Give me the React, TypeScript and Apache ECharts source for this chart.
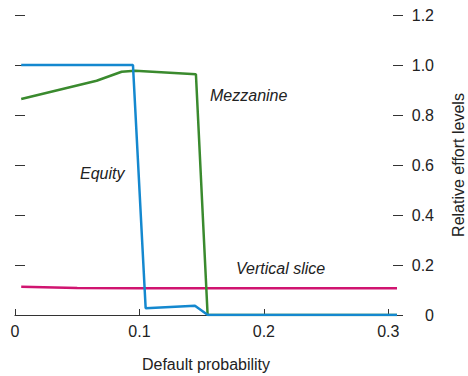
import React, { useEffect, useRef } from "react";
import * as echarts from "echarts";

const FONT = "'Liberation Sans', Arial, sans-serif";

const equityX = [0.005, 0.0948, 0.105, 0.1446, 0.155, 0.307];
const equityY = [1.0, 1.0, 0.027, 0.037, 0.0, 0.0];

const mezzX = [0.005, 0.0656, 0.0857, 0.0964, 0.1454, 0.1548, 0.307];
const mezzY = [0.864, 0.937, 0.973, 0.977, 0.963, 0.0, 0.0];

const sliceX = [0.005, 0.05, 0.1, 0.2, 0.307];
const sliceY = [0.113, 0.108, 0.107, 0.107, 0.107];

const xTicks = [0, 0.1, 0.2, 0.3];
const seriesLabels = ["Equity", "Mezzanine", "Vertical slice"];

const zip = (xs: number[], ys: number[]) => xs.map((x, i) => [x, ys[i]]);

export default function App() {
  const ref = useRef<HTMLDivElement>(null);
  useEffect(() => {
    if (!ref.current) return;
    const chart = echarts.init(ref.current, undefined, { renderer: "svg" });
    const axisColor = "#333";
    const yBase = { type: "value", min: 0, max: 1.2, interval: 0.2, splitLine: { show: false } };
    chart.setOption({
      animation: false,
      textStyle: { fontFamily: FONT },
      grid: { left: 15, right: 71, top: 15, bottom: 61, containLabel: false, outerBoundsMode: "none" },
      xAxis: {
        type: "value",
        min: 0,
        max: 0.307,
        interval: 0.1,
        name: "Default probability",
        nameLocation: "middle",
        nameGap: 41,
        nameTextStyle: { fontSize: 16, color: "#222", fontFamily: FONT },
        axisLine: { lineStyle: { color: axisColor, width: 1.2 } },
        axisTick: { inside: true, length: 6, customValues: xTicks, lineStyle: { color: axisColor } },
        axisLabel: {
          customValues: xTicks,
          fontSize: 16,
          color: "#222",
          margin: 8,
          fontFamily: FONT,
          formatter: (v: number) => (v === 0 ? "0" : String(Math.round(v * 10) / 10)),
        },
        splitLine: { show: false },
      },
      yAxis: [
        {
          ...yBase,
          position: "right",
          offset: -5,
          name: "Relative effort levels",
          nameLocation: "middle",
          nameGap: 58,
          nameRotate: 90,
          nameTextStyle: { fontSize: 16, color: "#222", fontFamily: FONT },
          axisLine: { show: false },
          axisTick: { show: false },
          axisLabel: {
            fontSize: 16,
            color: "#222",
            align: "right",
            margin: 42,
            fontFamily: FONT,
            formatter: (v: number) => (v === 0 ? "0" : v.toFixed(1)),
          },
        },
        {
          ...yBase,
          position: "left",
          axisLine: { show: false },
          axisTick: { show: true, inside: true, length: 10, lineStyle: { color: axisColor } },
          axisLabel: { show: false },
        },
        {
          ...yBase,
          position: "right",
          offset: 6,
          axisLine: { show: false },
          axisTick: { show: true, inside: true, length: 10, lineStyle: { color: axisColor } },
          axisLabel: { show: false },
        },
      ],
      series: [
        {
          name: seriesLabels[2],
          type: "line",
          data: zip(sliceX, sliceY),
          showSymbol: false,
          lineStyle: { color: "#D01470", width: 2.5 },
          z: 2,
        },
        {
          name: seriesLabels[1],
          type: "line",
          data: zip(mezzX, mezzY),
          showSymbol: false,
          lineStyle: { color: "#3A8A2E", width: 2.5 },
          z: 3,
        },
        {
          name: seriesLabels[0],
          type: "line",
          data: zip(equityX, equityY),
          showSymbol: false,
          lineStyle: { color: "#1488CF", width: 2.5 },
          z: 4,
        },
      ],
      graphic: [
        {
          type: "text",
          left: 80,
          top: 165,
          style: { text: seriesLabels[0], fontSize: 16, fontStyle: "italic", fontFamily: FONT, fill: "#222" },
        },
        {
          type: "text",
          left: 210,
          top: 87,
          style: { text: seriesLabels[1], fontSize: 16, fontStyle: "italic", fontFamily: FONT, fill: "#222" },
        },
        {
          type: "text",
          left: 236,
          top: 260,
          style: { text: seriesLabels[2], fontSize: 16, fontStyle: "italic", fontFamily: FONT, fill: "#222" },
        },
      ],
    });
    return () => chart.dispose();
  }, []);
  return <div ref={ref} style={{ width: 468, height: 376, position: "absolute", left: 0, top: 0 }} />;
}
